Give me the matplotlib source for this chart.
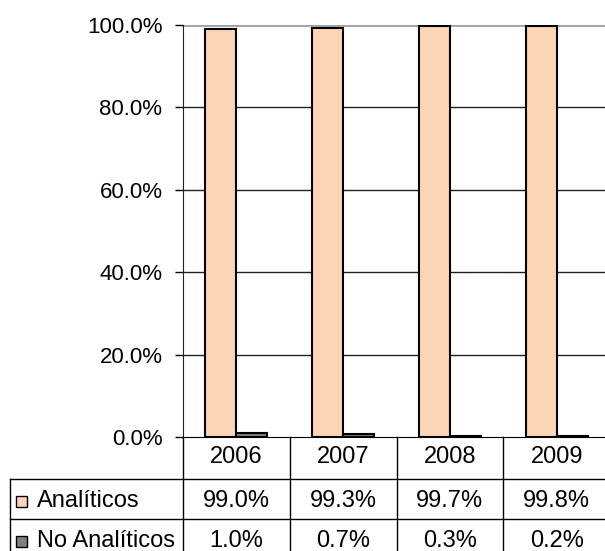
import numpy as np
import matplotlib.pyplot as plt
from matplotlib.lines import Line2D
from matplotlib.patches import Rectangle
from matplotlib.transforms import IdentityTransform

years = ['2006', '2007', '2008', '2009']
analiticos = [99.0, 99.3, 99.7, 99.8]
no_analiticos = [1.0, 0.7, 0.3, 0.2]
series_names = ['Analíticos', 'No Analíticos']
series_colors = ['#FBD5B5', '#808080']

plt.rcParams['font.family'] = ['Liberation Sans', 'DejaVu Sans']

W, H = 605, 551
fig = plt.figure(figsize=(W / 100, H / 100), dpi=100)
# plot area (pixels from top-left): x 183..610, y 25..437
ax = fig.add_axes([183 / W, (H - 437) / H, 427 / W, 412 / H])

x = np.arange(len(years))
bw = 0.29
ax.bar(x - bw / 2, np.array(analiticos) / 100, bw, color=series_colors[0],
       edgecolor='black', lw=1.5, zorder=3)
ax.bar(x + bw / 2, np.array(no_analiticos) / 100, bw, color=series_colors[1],
       edgecolor='black', lw=1.5, zorder=3)

ax.set_xlim(-0.5, len(years) - 0.5)
ax.set_ylim(0, 1)
yt = np.arange(0, 1.01, 0.2)
ax.set_yticks(yt)
ax.set_yticklabels(['{:.1f}%'.format(v * 100) for v in yt])
ax.set_xticks([])
for v in yt[1:-1]:
    ax.axhline(v, color='#202020', lw=1, zorder=1)
ax.axhline(1, color='#a0a0a0', lw=2, zorder=1)
ax.spines['top'].set_visible(False)
ax.spines['right'].set_visible(False)
ax.spines['left'].set_color('#202020')
ax.spines['bottom'].set_color('black')
ax.tick_params(axis='y', length=5.8, width=1, pad=9, labelsize=16, colors='black')

fs = 17
ident = IdentityTransform()


def py(y):
    # image pixel y (from top) -> display y
    return H - y


def line(x0, x1, y0, y1):
    fig.add_artist(Line2D([x0, x1], [py(y0), py(y1)], transform=ident,
                          color='black', lw=1))


# column boundaries from the axes data scale
cols = [ax.transData.transform((i - 0.5, 0))[0] for i in range(len(years) + 1)]
rows = [437, 479, 519, 559]
left = 10

for c in cols:
    line(c, c, rows[0], rows[-1])
line(left, left, rows[1], rows[-1])
for r in rows[1:]:
    line(left, cols[-1], r, r)

for i, yr in enumerate(years):
    cx = (cols[i] + cols[i + 1]) / 2
    fig.text(cx, py((rows[0] + rows[1]) / 2 - 1), yr, transform=ident,
             ha='center', va='center', fontsize=fs)

values = [analiticos, no_analiticos]
for k, name in enumerate(series_names):
    cy = (rows[k + 1] + rows[k + 2]) / 2 + 2
    fig.add_artist(Rectangle((16, py(cy + 5.5)), 11, 11, transform=ident,
                             facecolor=series_colors[k], edgecolor='black', lw=1))
    fig.text(37, py(cy), name, transform=ident, ha='left', va='center', fontsize=fs)
    for i, v in enumerate(values[k]):
        cx = (cols[i] + cols[i + 1]) / 2
        fig.text(cx, py(cy), '{:.1f}%'.format(v), transform=ident,
                 ha='center', va='center', fontsize=fs)

fig.savefig('out.png', dpi=100)
